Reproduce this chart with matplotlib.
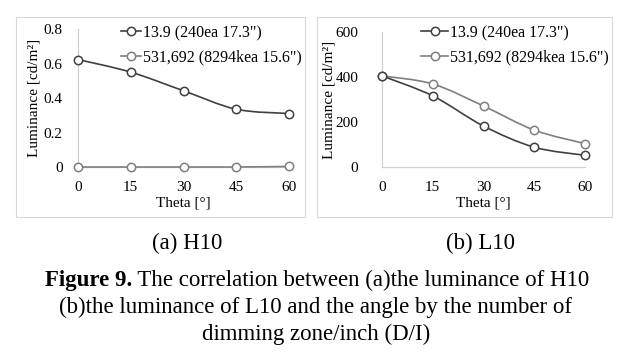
import matplotlib.pyplot as plt
from matplotlib.path import Path
from matplotlib.patches import PathPatch, Rectangle
from matplotlib.lines import Line2D

plt.rcParams['font.family'] = ['Liberation Serif', 'DejaVu Serif']

theta = [0, 15, 30, 45, 60]
labels = ['13.9 (240ea 17.3")', '531,692 (8294kea 15.6")']
h10_dark = [0.623, 0.55, 0.442, 0.335, 0.31]
h10_light = [0.0, 0.0, 0.0, 0.0, 0.003]
l10_dark = [405, 316, 182, 88, 52]
l10_light = [405, 369, 271, 164, 104]

dark = '#404040'
light = '#7f7f7f'


def smooth(ax, x, y, color):
    # excel style smoothed line (catmull-rom as bezier segments)
    n = len(x)
    verts = [(x[0], y[0])]
    codes = [Path.MOVETO]
    for i in range(n - 1):
        x0, y0 = (x[i - 1], y[i - 1]) if i > 0 else (x[i], y[i])
        x3, y3 = (x[i + 2], y[i + 2]) if i + 2 < n else (x[i + 1], y[i + 1])
        c1 = (x[i] + (x[i + 1] - x0) / 6, y[i] + (y[i + 1] - y0) / 6)
        c2 = (x[i + 1] - (x3 - x[i]) / 6, y[i + 1] - (y3 - y[i]) / 6)
        verts += [c1, c2, (x[i + 1], y[i + 1])]
        codes += [Path.CURVE4] * 3
    ax.add_patch(PathPatch(Path(verts, codes), fill=False, edgecolor=color,
                           lw=1.2, clip_on=False, zorder=3))
    ax.plot(x, y, ls='none', marker='o', ms=6, mfc='white', mec=color,
            mew=1.1, clip_on=False, zorder=4)


fig = plt.figure(figsize=(6.22, 3.59), dpi=100)
W, H = 622, 359


def fbox(x0, y0, x1, y1):
    return [x0 / W, 1 - y1 / H, (x1 - x0) / W, (y1 - y0) / H]


# chart borders
for b in [(16, 17, 305, 217), (317, 17, 612, 217)]:
    fig.patches.append(Rectangle((b[0] / W, 1 - b[3] / H), (b[2] - b[0]) / W,
                                 (b[3] - b[1]) / H, transform=fig.transFigure,
                                 fill=False, edgecolor='#d9d9d9', lw=0.8))

ax1 = fig.add_axes(fbox(78, 29, 289, 167))
ax2 = fig.add_axes(fbox(382, 32, 585, 167))

setup = [
    (ax1, h10_dark, h10_light, 0.8, [0, 0.2, 0.4, 0.6, 0.8],
     ['0', '0.2', '0.4', '0.6', '0.8'], 11, 2, 121, 1.25),
    (ax2, l10_dark, l10_light, 600, [0, 200, 400, 600],
     ['0', '200', '400', '600'], 17, 0, 421, 1.7),
]
for ax, yd, yl, ylim, yt, ytl, pad, lpad, legx, hl in setup:
    smooth(ax, theta, yl, light)
    smooth(ax, theta, yd, dark)
    ax.set_xlim(0, 60)
    ax.set_ylim(0, ylim)
    ax.set_xticks(theta)
    ax.set_yticks(yt)
    ax.set_yticklabels(ytl)
    ax.tick_params(length=0, labelsize=11)
    ax.tick_params(axis='y', pad=pad)
    ax.tick_params(axis='x', pad=10)
    for s in ['top', 'right']:
        ax.spines[s].set_visible(False)
    for s in ['left', 'bottom']:
        ax.spines[s].set_color('#d0d0d0')
        ax.spines[s].set_linewidth(0.9)
    ax.set_xlabel('Theta [°]', fontsize=11, labelpad=2)
    ax.set_ylabel('Luminance [cd/m²]', fontsize=11, labelpad=lpad)
    ax.patch.set_alpha(0)
    handles = [Line2D([], [], color=dark, lw=1.2, marker='o', ms=6,
                      mfc='white', mec=dark, mew=1.1),
               Line2D([], [], color=light, lw=1.2, marker='o', ms=6,
                      mfc='white', mec=light, mew=1.1)]
    ax.legend(handles, labels, loc='upper left',
              bbox_to_anchor=(legx / W, 1 - 25 / H),
              bbox_transform=fig.transFigure,
              frameon=False, fontsize=11.5, handlelength=hl, handletextpad=0.1,
              labelspacing=0.55, borderaxespad=0, borderpad=0)

fs = 16.5
fig.text(187 / W, 1 - 249 / H, '(a) H10', ha='center', va='baseline', fontsize=fs)
fig.text(481 / W, 1 - 249 / H, '(b) L10', ha='center', va='baseline', fontsize=fs)
fig.text(0.508, 1 - 313 / H,
         '(b)the luminance of L10 and the angle by the number of',
         ha='center', va='baseline', fontsize=fs)
fig.text(0.508, 1 - 340 / H, 'dimming zone/inch (D/I)', ha='center',
         va='baseline', fontsize=fs)

# first caption line: bold part + regular part
t1 = fig.text(0, 1 - 286 / H, 'Figure 9.', fontweight='bold', fontsize=fs,
              va='baseline')
t2 = fig.text(0, 1 - 286 / H, ' The correlation between (a)the luminance of H10',
              fontsize=fs, va='baseline')
fig.canvas.draw()
r = fig.canvas.get_renderer()
w1 = t1.get_window_extent(r).width
w2 = t2.get_window_extent(r).width
x0 = 317 - (w1 + w2) / 2
t1.set_x(x0 / W)
t2.set_x((x0 + w1) / W)

fig.savefig('out.png', dpi=100)
